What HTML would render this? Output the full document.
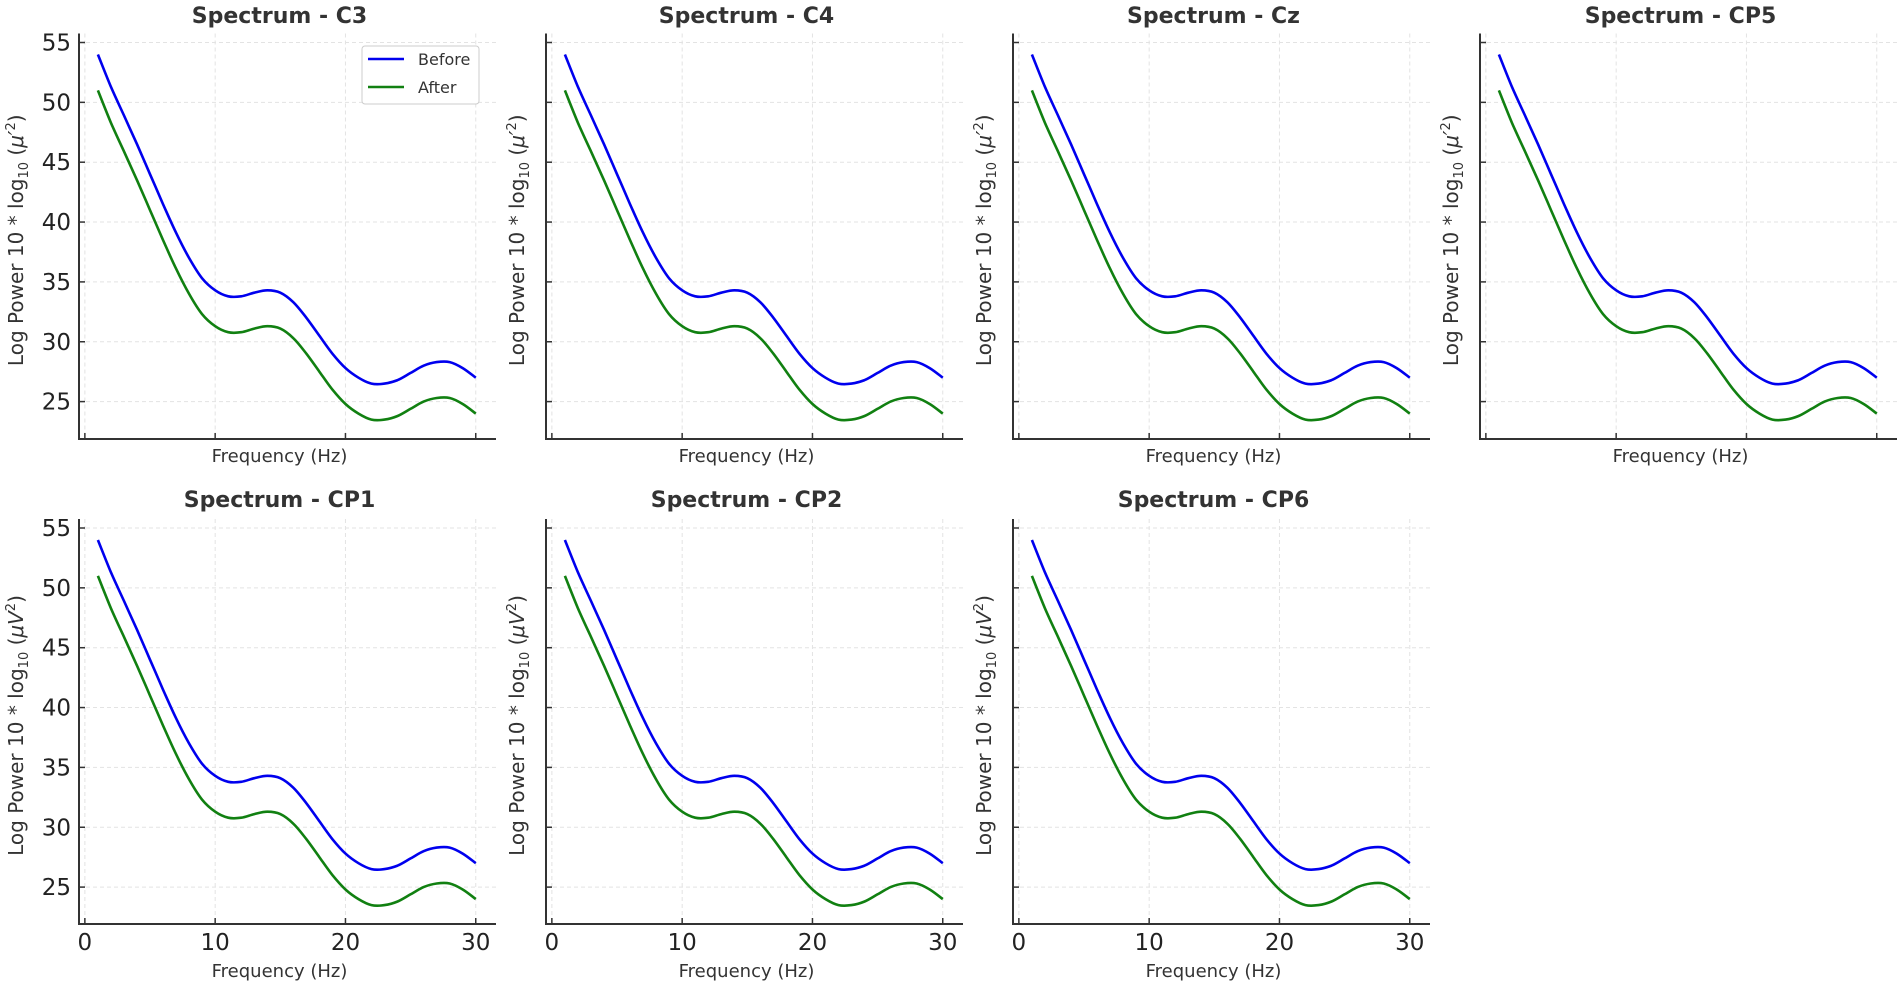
<!DOCTYPE html>
<html><head><meta charset="utf-8"><style>
html,body{margin:0;padding:0;background:#fff;}
svg{display:block;font-family:"DejaVu Sans","Liberation Sans",sans-serif;}
</style></head><body>
<svg id="fig" width="1902" height="989" viewBox="0 0 1902 989"></svg>
<script>
const channels = ["C3","C4","Cz","CP5","CP1","CP2","CP6"];
const freqs = [1,2,3,4,5,6,7,8,9,10,11,12,13,14,15,16,17,18,19,20,21,22,23,24,25,26,27,28,29,30];
const beforeVals = [54,51.3,48.9,46.5,44,41.5,39.1,37,35.3,34.3,33.8,33.8,34.1,34.3,34.1,33.3,32,30.5,29,27.8,27,26.5,26.5,26.8,27.4,28,28.3,28.3,27.8,27];
const afterVals = [51,48.3,45.9,43.5,41,38.5,36.1,34,32.3,31.3,30.8,30.8,31.1,31.3,31.1,30.3,29,27.5,26,24.8,24,23.5,23.5,23.8,24.4,25,25.3,25.3,24.8,24];
const xTicks = [0,10,20,30];
const yTicks = [25,30,35,40,45,50,55];

const NS="http://www.w3.org/2000/svg";
const svg=document.getElementById('fig');
function mk(tag,attrs,parent){const e=document.createElementNS(NS,tag);for(const k in attrs)e.setAttribute(k,attrs[k]);(parent||svg).appendChild(e);return e;}

const colX=[79,546,1013,1480];
const rowBottom=[439,924];
const rowY55=[42.5,528];
const pxHz=13.03, pxU=11.97;

function smoothPath(pts){
  let d='M'+pts[0][0].toFixed(1)+','+pts[0][1].toFixed(1);
  for(let k=0;k<pts.length-1;k++){
    const p0=pts[Math.max(0,k-1)],p1=pts[k],p2=pts[k+1],p3=pts[Math.min(pts.length-1,k+2)];
    const c1x=p1[0]+(p2[0]-p0[0])/6,c1y=p1[1]+(p2[1]-p0[1])/6;
    const c2x=p2[0]-(p3[0]-p1[0])/6,c2y=p2[1]-(p3[1]-p1[1])/6;
    d+=`C${c1x.toFixed(1)},${c1y.toFixed(1)} ${c2x.toFixed(1)},${c2y.toFixed(1)} ${p2[0].toFixed(1)},${p2[1].toFixed(1)}`;
  }
  return d;
}

channels.forEach((ch,i)=>{
  const r=Math.floor(i/4), c=i%4;
  const sx=colX[c], by=rowBottom[r];
  const xS=f=>sx+(f+0.45)*pxHz;
  const yS=v=>rowY55[r]+(55-v)*pxU;
  const top=rowY55[r]-9, right=sx+417;
  const g=mk('g',{});
  
  
  xTicks.forEach(t=>{const l=mk('line',{x1:xS(t),x2:xS(t),y1:top,y2:by,stroke:'#e3e3e3','stroke-width':1,'stroke-dasharray':'4,3'},g);
    });
  yTicks.forEach(t=>{const l=mk('line',{x1:sx,x2:right,y1:yS(t),y2:yS(t),stroke:'#e3e3e3','stroke-width':1,'stroke-dasharray':'4,3'},g);
    });
  const sp=mk('path',{d:`M${sx},${top}V${by}H${right}`,fill:'none',stroke:'#333','stroke-width':2},g);
  
  xTicks.forEach(t=>{const l=mk('line',{x1:xS(t),x2:xS(t),y1:by,y2:by-6,stroke:'#333','stroke-width':1.5},g);
    
    if(r===1){const tx=mk('text',{x:xS(t),y:by+26,'text-anchor':'middle','font-size':23,fill:'#222'},g);tx.textContent=t;
      }});
  yTicks.forEach(t=>{const l=mk('line',{x1:sx,x2:sx+6,y1:yS(t),y2:yS(t),stroke:'#333','stroke-width':1.5},g);
    
    if(c===0){const tx=mk('text',{x:sx-8,y:yS(t)+8,'text-anchor':'end','font-size':23,fill:'#222'},g);tx.textContent=t;
      }});
  const line=(vals,col,name)=>{const pts=vals.map((v,k)=>[xS(freqs[k]),yS(v)]);
    const p=mk('path',{d:smoothPath(pts),fill:'none',stroke:col,'stroke-width':2.6,'stroke-linejoin':'round'},g);
    };
  line(beforeVals,'#0000ee','line-before');
  line(afterVals,'#118011','line-after');
  const ti=mk('text',{x:(sx+right)/2-8,y:r===0?23:507,'text-anchor':'middle','font-size':22,'font-weight':'bold',fill:'#333'},g);
  ti.textContent='Spectrum - '+ch;
  const xl=mk('text',{x:(sx+right)/2-8,y:r===0?462:977,'text-anchor':'middle','font-size':18,fill:'#333'},g);
  xl.textContent='Frequency (Hz)';
  const cy=(top+by)/2+4;
  const lx=sx-(c===0?56:22);
  const yl=mk('text',{x:lx,y:cy,transform:`rotate(-90 ${lx} ${cy})`,'text-anchor':'middle','font-size':20,fill:'#333'},g);
  yl.innerHTML='Log Power 10 * log<tspan font-size="13" dy="5">10</tspan><tspan dy="-5"> (<tspan font-style="italic">μ'+(r===0?'′':'V')+'</tspan><tspan font-size="13" dy="-8">2</tspan><tspan dy="8">)</tspan></tspan>';
  
  if(i===0){
    const lg=mk('g',{},g);
    mk('rect',{x:362,y:46,width:117,height:58,rx:3,fill:'#fff',stroke:'#ccc','stroke-width':1},lg);
    mk('line',{x1:368,x2:404,y1:59,y2:59,stroke:'#0000ee','stroke-width':2.6},lg);
    mk('line',{x1:368,x2:404,y1:87,y2:87,stroke:'#118011','stroke-width':2.6},lg);
    const t1=mk('text',{x:418,y:65,'font-size':16,fill:'#333'},lg);t1.textContent='Before';
    
    const t2=mk('text',{x:418,y:93,'font-size':16,fill:'#333'},lg);t2.textContent='After';
    
  }
});
</script>
</body></html>
